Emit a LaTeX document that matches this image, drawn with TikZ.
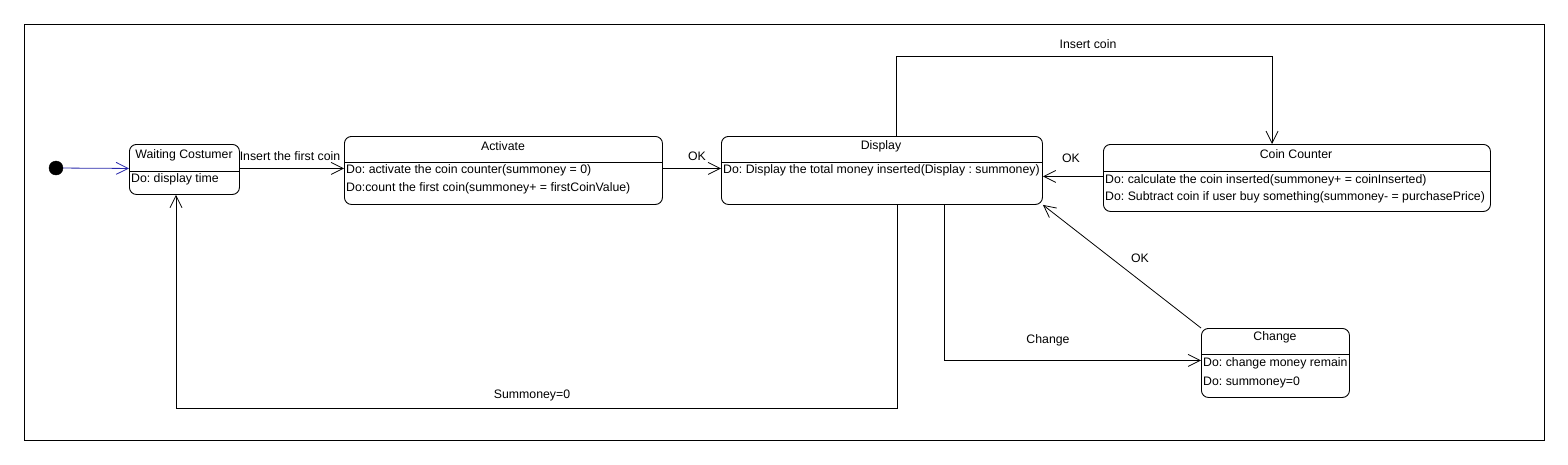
\documentclass[tikz,border=0pt]{standalone}
\usepackage{fontspec}
\setmainfont{Liberation Sans}
\usetikzlibrary{arrows.meta}
\definecolor{initblue}{RGB}{40,40,170}
\frenchspacing
\begin{document}
\begin{tikzpicture}[x=1pt,y=-1pt,
  every node/.style={font=\fontsize{12.3}{14}\selectfont},
  sbox/.style={draw, line width=0.9pt, rounded corners=7pt, inner sep=0pt, anchor=north west},
  ttl/.style={inner sep=0pt, anchor=center},
  body/.style={inner sep=0pt, anchor=west},
  lbl/.style={inner sep=0pt, anchor=center},
  tr/.style={draw, line width=0.8pt, -{Straight Barb[length=12pt,width=12pt,line width=0.8pt]}},
  divl/.style={draw, line width=0.9pt}
]
\useasboundingbox (0,0) rectangle (1568,464);
\draw[line width=1pt] (24,24) rectangle (1544,440);

% initial state
\node[circle, fill=black, draw=black, minimum size=14pt, inner sep=0pt] (init) at (56,168) {};

% Waiting Costumer
\node[sbox, minimum width=110pt, minimum height=50pt] (wait) at (129,144) {};
\draw[divl] (129,171) -- (239,171);
\node[ttl] (waitT) at (184,155) {Waiting Costumer};
\node[body] (waitB) at (131,179) {Do: display time};

% Activate
\node[sbox, minimum width=318pt, minimum height=68pt] (act) at (344,136) {};
\draw[divl] (344,162) -- (662,162);
\node[ttl] (actT) at (503,146) {Activate};
\node[body] (actB1) at (346,170) {Do: activate the coin counter(summoney = 0)};
\node[body] (actB2) at (346,188) {Do:count the first coin(summoney+ = firstCoinValue)};

% Display
\node[sbox, minimum width=321pt, minimum height=68pt] (disp) at (721,136) {};
\draw[divl] (721,162) -- (1042,162);
\node[ttl] (dispT) at (881,146) {Display};
\node[body] (dispB) at (723,170) {Do: Display the total money inserted(Display : summoney)};

% Coin Counter
\node[sbox, minimum width=387pt, minimum height=67pt] (coin) at (1103,144) {};
\draw[divl] (1103,171) -- (1490,171);
\node[ttl] (coinT) at (1296,154) {Coin Counter};
\node[body] (coinB1) at (1105,180) {Do: calculate the coin inserted(summoney+ = coinInserted)};
\node[body] (coinB2) at (1105,197) {Do: Subtract coin if user buy something(summoney- = purchasePrice)};

% Change
\node[sbox, minimum width=148pt, minimum height=69pt] (chg) at (1201,328) {};
\draw[divl] (1201,354) -- (1349,354);
\node[ttl] (chgT) at (1275,337) {Change};
\node[body] (chgB1) at (1203,363) {Do: change money remain};
\node[body] (chgB2) at (1203,382) {Do: summoney=0};

% coordinates for bends
\coordinate (topL) at (896,56);
\coordinate (sumturn) at (176,408);

% transitions
\draw[tr, draw=initblue, -{Straight Barb[length=12pt,width=12pt,line width=0.8pt,color=initblue]}] (init) -- ([yshift=1pt]wait.west);
\draw[tr] ([yshift=1pt]wait.east) -- ([yshift=1pt]wait.east -| act.west);
\node[lbl] (l1) at (290,156) {Insert the first coin};
\draw[tr] ([yshift=2pt]act.east) -- ([yshift=2pt]act.east -| disp.west);
\node[lbl] (l2) at (697,156) {OK};
\draw[tr] ([xshift=175pt]disp.north west) -- (topL) -| ([xshift=169pt]coin.north west);
\node[lbl] (l3) at (1088,44) {Insert coin};
\draw[tr] ([yshift=1.5pt]coin.west) -- ([yshift=1.5pt]coin.west -| disp.east);
\node[lbl] (l4) at (1071,158) {OK};
\draw[tr] (chg.north west) -- (disp.south east);
\node[lbl] (l5) at (1140,258) {OK};
\draw[tr] ([xshift=223pt]disp.south west) |- ([yshift=2.5pt]chg.west);
\node[lbl] (l6) at (1048,340) {Change};
\draw[tr] ([xshift=176pt]disp.south west) |- (sumturn) -- ([xshift=47pt]wait.south west);
\node[lbl] (l7) at (532,395) {Summoney=0};
\end{tikzpicture}
\end{document}
